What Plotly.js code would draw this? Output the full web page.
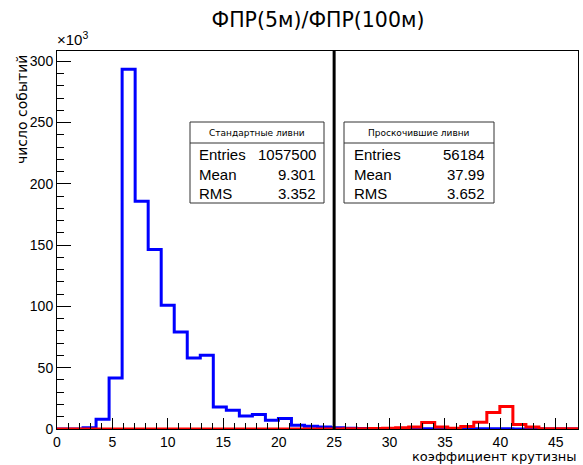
<!DOCTYPE html>
<html>
<head>
<meta charset="utf-8">
<script src="https://cdn.plot.ly/plotly-3.0.1.min.js"></script>
<style>html,body{margin:0;padding:0;background:#fff;}#chart{width:583px;height:465px;}</style>
</head>
<body>
<div id="chart"></div>
<script>
// ---- data ----
const xMin = 0;
const xMax = 47;
const nBins = 40;
// counts per bin, in thousands (x10^3)
const standardCounts = [0, 0, 1.0, 8.0, 41.7, 293.5, 185.8, 146.4, 101.0, 79.2,
  58.0, 60.2, 18.0, 15.3, 10.7, 11.8, 7.2, 8.6, 3.1, 2.3,
  1.7, 1.0, 0.6, 0.5, 0.4, 0.35, 0.3, 0.3, 0.25, 0.25,
  0.2, 0.2, 0.2, 0.15, 0.15, 0.1, 0.1, 0.05, 0.05, 0.05];
const leakedCounts = [0, 0, 0, 0, 0, 0, 0, 0, 0, 0,
  0, 0, 0, 0, 0, 0, 0, 0, 0, 0,
  0, 0, 0.3, 0.3, 0.5, 0.7, 1.0, 1.7, 5.3, 1.7,
  0.7, 2.0, 5.5, 13.4, 18.3, 3.7, 1.7, 0.3, 0.2, 0.2];
const cutValue = 25;
const titleText = 'ФПР(5м)/ФПР(100м)';
const xTitle = 'коэффициент крутизны';
const yTitle = 'число событий';
const statHeaders = ['Стандартные ливни', 'Проскочившие ливни'];
const statLabels = ['Entries', 'Mean', 'RMS'];
const statValuesStandard = ['1057500', '9.301', '3.352'];
const statValuesLeaked = ['56184', '37.99', '3.652'];

// ---- build step outlines ----
function stepTrace(counts, color) {
  const w = (xMax - xMin) / nBins;
  const xs = [], ys = [];
  for (let i = 0; i < counts.length; i++) { xs.push(xMin + i * w); ys.push(counts[i]); }
  xs.push(xMax); ys.push(counts[counts.length - 1]);
  return {x: xs, y: ys, type: 'scatter', mode: 'lines',
    line: {shape: 'hv', color: color, width: 3}, hoverinfo: 'skip', showlegend: false};
}

// pixel -> paper helpers for the plot frame
const L = 57, R = 578, T = 51, B = 429;
const PX = p => (p - L) / (R - L);
const PY = p => (B - p) / (B - T);

const tickFont = {family: 'Liberation Sans, Arial, sans-serif', size: 14, color: '#000'};
const statFont = {family: 'Liberation Sans, Arial, sans-serif', size: 15, color: '#000'};
const headFont = {family: 'DejaVu Sans, sans-serif', size: 9, color: '#000'};

const boxes = [
  {x0: 190, x1: 324, left: 197, right: 318, head: statHeaders[0], vals: statValuesStandard},
  {x0: 344, x1: 494, left: 352, right: 487, head: statHeaders[1], vals: statValuesLeaked}
];
const shapes = [{type: 'line', xref: 'x', yref: 'paper', x0: cutValue, x1: cutValue, y0: 0, y1: 1,
  line: {color: '#000', width: 3}}];
const annotations = [];
const rowY = [154, 174, 194];
boxes.forEach(b => {
  shapes.push({type: 'rect', xref: 'paper', yref: 'paper', x0: PX(b.x0), x1: PX(b.x1), y0: PY(203), y1: PY(122),
    line: {color: '#333', width: 1}, fillcolor: '#fff', layer: 'above'});
  shapes.push({type: 'line', xref: 'paper', yref: 'paper', x0: PX(b.x0), x1: PX(b.x1), y0: PY(143), y1: PY(143),
    line: {color: '#333', width: 1}, layer: 'above'});
  annotations.push({xref: 'paper', yref: 'paper', x: PX((b.x0 + b.x1) / 2), y: PY(132.5), text: b.head,
    showarrow: false, xanchor: 'center', yanchor: 'middle', font: headFont});
  statLabels.forEach((lab, i) => {
    annotations.push({xref: 'paper', yref: 'paper', x: PX(b.left), y: PY(rowY[i]), text: lab,
      showarrow: false, xanchor: 'left', yanchor: 'middle', font: statFont});
    annotations.push({xref: 'paper', yref: 'paper', x: PX(b.right), y: PY(rowY[i]), text: b.vals[i],
      showarrow: false, xanchor: 'right', yanchor: 'middle', font: statFont});
  });
});
annotations.push({xref: 'paper', yref: 'paper', x: PX(55), y: PY(50), text: '×10<sup>3</sup>',
  showarrow: false, xanchor: 'left', yanchor: 'bottom',
  font: {family: 'Liberation Sans, Arial, sans-serif', size: 15, color: '#000'}});
annotations.push({xref: 'paper', yref: 'paper', x: PX(579), y: PY(456.5), text: xTitle,
  showarrow: false, xanchor: 'right', yanchor: 'middle',
  font: {family: 'DejaVu Sans, sans-serif', size: 13, color: '#000'}});
annotations.push({xref: 'paper', yref: 'paper', x: PX(21.5), y: PY(53), text: yTitle, textangle: -90,
  showarrow: false, xanchor: 'center', yanchor: 'top',
  font: {family: 'DejaVu Sans, sans-serif', size: 14, color: '#000'}});

const data = [stepTrace(standardCounts, '#0000ff'), stepTrace(leakedCounts, '#ff0000')];

const layout = {
  width: 583, height: 465,
  margin: {l: L, r: 583 - R, t: T, b: 465 - B, pad: 0},
  paper_bgcolor: '#fff', plot_bgcolor: '#fff',
  title: {text: titleText, x: 318 / 583, xanchor: 'center', y: 1 - 20 / 465, yanchor: 'middle',
    font: {family: 'DejaVu Sans, sans-serif', size: 20.5, color: '#000'}},
  xaxis: {range: [xMin, xMax], dtick: 5, tick0: 0, ticks: 'inside', ticklen: 11, tickwidth: 1, tickcolor: '#000',
    minor: {ticks: 'inside', dtick: 1, ticklen: 6, tickwidth: 1, tickcolor: '#000'},
    showline: true, linecolor: '#000', linewidth: 1, mirror: true, showgrid: false, zeroline: false,
    tickfont: tickFont, fixedrange: true},
  yaxis: {range: [0, 308.4], dtick: 50, tick0: 0, ticks: 'inside', ticklen: 14, tickwidth: 1, tickcolor: '#000',
    minor: {ticks: 'inside', dtick: 10, ticklen: 7, tickwidth: 1, tickcolor: '#000'},
    showline: true, linecolor: '#000', linewidth: 1, mirror: true, showgrid: false, zeroline: false,
    tickfont: tickFont, fixedrange: true},
  shapes: shapes,
  annotations: annotations,
  showlegend: false
};
Plotly.newPlot('chart', data, layout, {staticPlot: true, displayModeBar: false});
</script>
</body>
</html>
